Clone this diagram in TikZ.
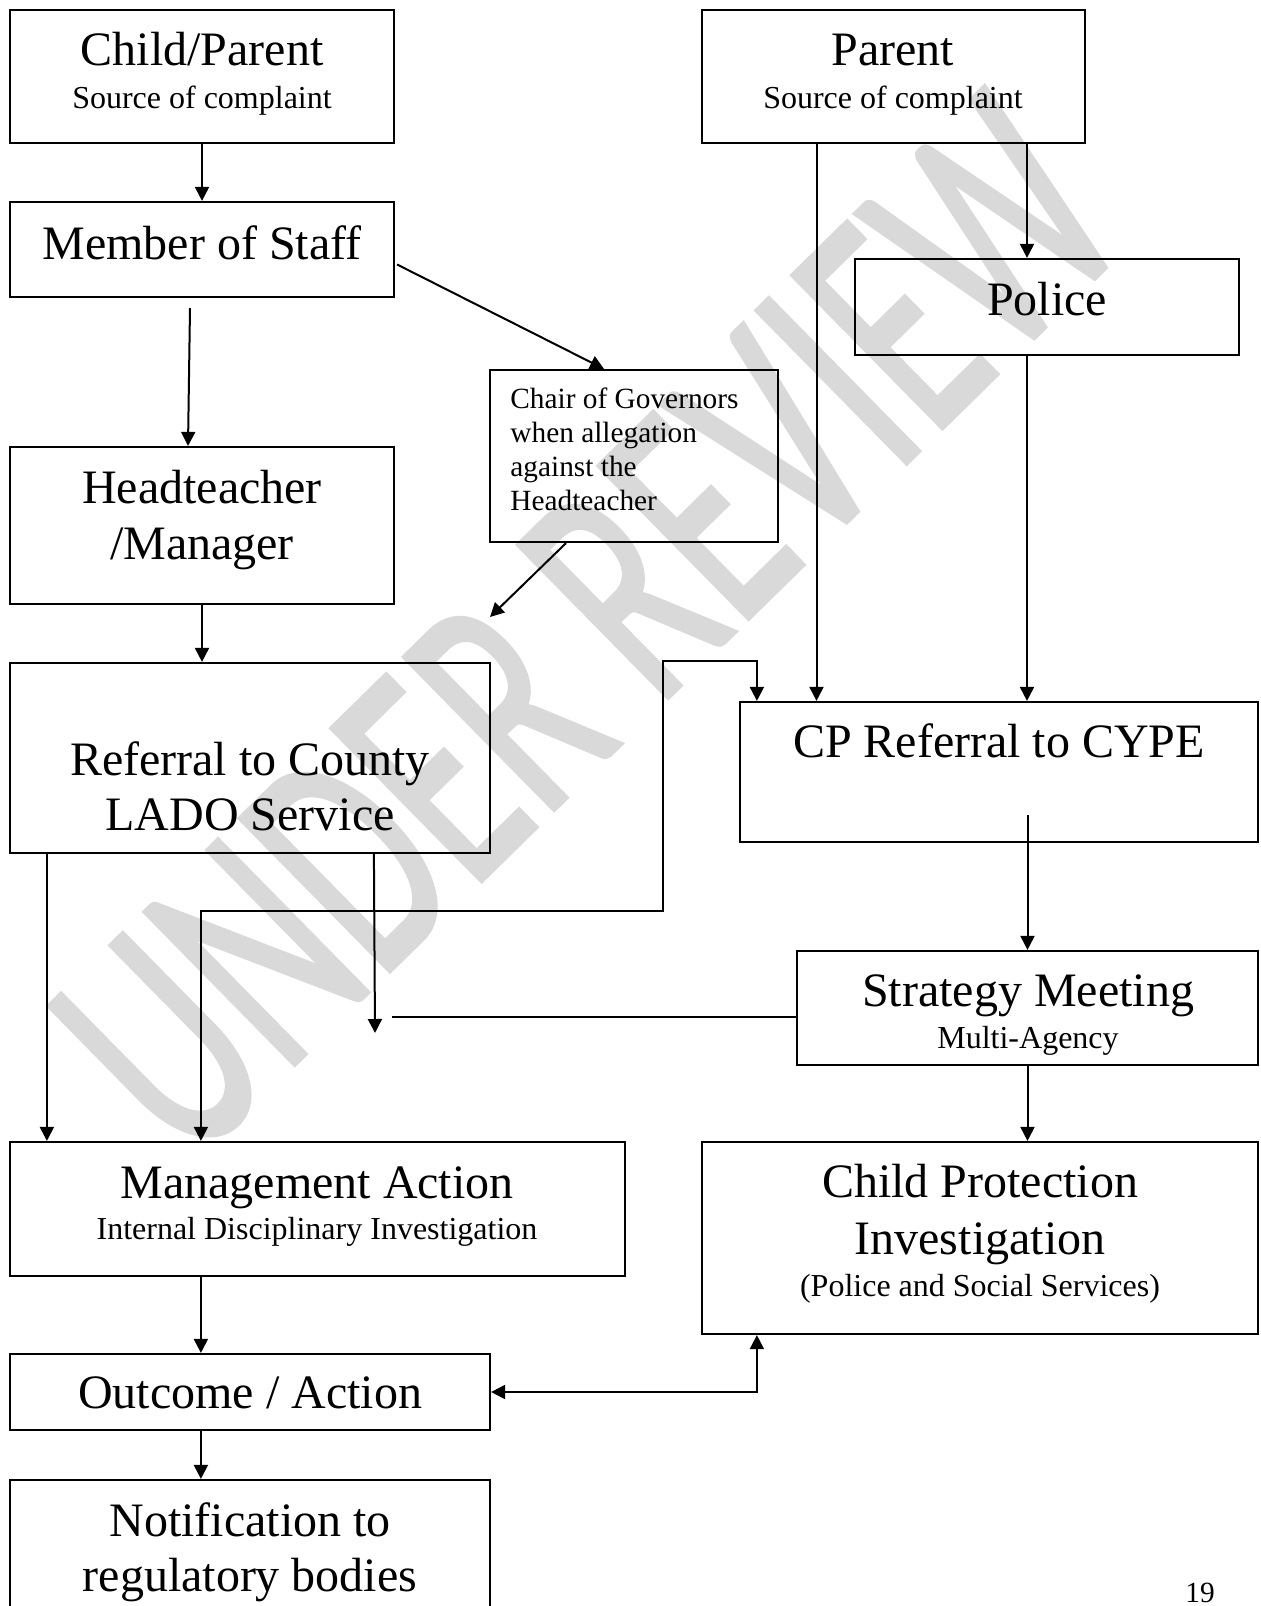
\documentclass[tikz,border=0pt]{standalone}
\usepackage{fontspec}
\setmainfont{Liberation Serif}
\newfontfamily\wmfont[FakeBold=1.5]{Carlito}
\usetikzlibrary{arrows.meta,fit,calc}
\begin{document}
\begin{tikzpicture}[x=0.5pt,y=-0.5pt,
  box/.style={draw, line width=1.1pt, inner sep=0pt},
  big/.style={font=\fontsize{24}{28}\selectfont, anchor=base, inner sep=0pt},
  small/.style={font=\fontsize{16}{19}\selectfont, anchor=base, inner sep=0pt},
  note/.style={font=\fontsize{14.67}{17}\selectfont, anchor=base west, inner sep=0pt},
  arr/.style={line width=1pt, -{Triangle[length=7pt,width=7pt]}},
  darr/.style={line width=1pt, {Triangle[length=7pt,width=7pt]}-{Triangle[length=7pt,width=7pt]}},
  ln/.style={line width=1pt}]
\useasboundingbox (0,0) rectangle (1260,1606);
\clip (0,0) rectangle (1260,1606);
% watermark
\node[font=\wmfont\fontsize{104}{104}\selectfont, text=black!15, inner sep=0pt, rotate=44.5, yscale=1.6] (wm) at (588,628) {UNDER REVIEW};
% boxes
\node[box, fit={(10,10) (394,143)}] (child) {};
\node[box, fit={(702,10) (1085,143)}] (parent) {};
\node[box, fit={(10,202) (394,297)}] (staff) {};
\node[box, fit={(855,259) (1239,355)}] (police) {};
\node[box, fit={(490,370) (778,542)}] (chair) {};
\node[box, fit={(10,447) (394,604)}] (head) {};
\node[box, fit={(10,663) (490,853)}] (lado) {};
\node[box, fit={(740,702) (1258,842)}] (cp) {};
\node[box, fit={(797,951) (1258,1065)}] (strat) {};
\node[box, fit={(10,1142) (625,1276)}] (mgmt) {};
\node[box, fit={(702,1142) (1258,1334)}] (cpi) {};
\node[box, fit={(10,1354) (490,1430)}] (outcome) {};
\node[box, fit={(10,1480) (490,1660)}] (notif) {};
% texts
\node[big] (tchild1) at (202,65) {Child/Parent};
\node[small] (tchild2) at (202,108) {Source of complaint};
\node[big] (tparent1) at (893,65) {Parent};
\node[small] (tparent2) at (893,108) {Source of complaint};
\node[big] (tstaff) at (202,259) {Member of Staff};
\node[big] (tpolice) at (1047,315) {Police};
\node[note] (tchair1) at (510,408) {Chair of Governors};
\node[note] (tchair2) at (510,442) {when allegation};
\node[note] (tchair3) at (510,476) {against the};
\node[note] (tchair4) at (510,510) {Headteacher};
\node[big] (thead1) at (202,503) {Headteacher};
\node[big] (thead2) at (202,559) {/Manager};
\node[big] (tlado1) at (250,775) {Referral to County};
\node[big] (tlado2) at (250,830) {LADO Service};
\node[big] (tcp) at (999,757) {CP Referral to CYPE};
\node[big] (tstrat1) at (1028,1006) {Strategy Meeting};
\node[small] (tstrat2) at (1028,1048) {Multi-Agency};
\node[big] (tmgmt1) at (317,1198) {Management Action};
\node[small] (tmgmt2) at (317,1239) {Internal Disciplinary Investigation};
\node[big] (tcpi1) at (980,1197) {Child Protection};
\node[big] (tcpi2) at (980,1254) {Investigation};
\node[small] (tcpi3) at (980,1296) {(Police and Social Services)};
\node[big] (tout) at (250,1408) {Outcome / Action};
\node[big] (tnot1) at (250,1536) {Notification to};
\node[big] (tnot2) at (250,1591) {regulatory bodies};
\node[font=\fontsize{14.67}{17}\selectfont, anchor=base, inner sep=0pt] (tpage) at (1200,1602) {19};
% free ends and helpers
\coordinate (chairend) at (490,617);
\coordinate (midend) at (375,1033);
\coordinate (sline) at (392,1017);
\coordinate (pl) at ([shift={(-77,0)}]parent.south);
\coordinate (pp) at ([shift={(-20,0)}]police.north);
\coordinate (mo) at ([shift={(192,0)}]mgmt.south west);
% connectors
\draw[arr] (child.south) -- (staff.north);
\draw[arr] ([shift={(-12,10)}]staff.south) -- ([shift={(-14,0)}]head.north);
\draw[arr] ([shift={(2,15)}]staff.east) -- ([shift={(-30,0)}]chair.north);
\draw[arr] ([shift={(-68,0)}]chair.south) -- (chairend);
\draw[arr] (head.south) -- (head.south |- lado.north);
\draw[darr] ([shift={(18,0)}]cp.north west) -- ++(0,-40) -| (663,911) -| ([shift={(192,0)}]mgmt.north west);
\draw[arr] ([shift={(38,0)}]lado.south west) -- ([shift={(38,0)}]mgmt.north west);
\draw[arr] ([shift={(365,0)}]lado.south west) -- (midend);
\draw[ln] (sline) -- (sline -| strat.west);
\draw[arr] (pl) -- (pl |- cp.north);
\draw[arr] (pp |- parent.south) -- (pp);
\draw[arr] (pp |- police.south) -- (pp |- cp.north);
\draw[arr] ([shift={(0,-135)}]strat.north) -- (strat.north);
\draw[arr] (strat.south) -- (strat.south |- cpi.north);
\draw[arr] (mo) -- (mo |- outcome.north);
\draw[arr] ([shift={(192,0)}]outcome.south west) -- ([shift={(192,0)}]notif.north west);
\draw[darr] (outcome.east) -| ([shift={(56,0)}]cpi.south west);
\end{tikzpicture}
\end{document}
